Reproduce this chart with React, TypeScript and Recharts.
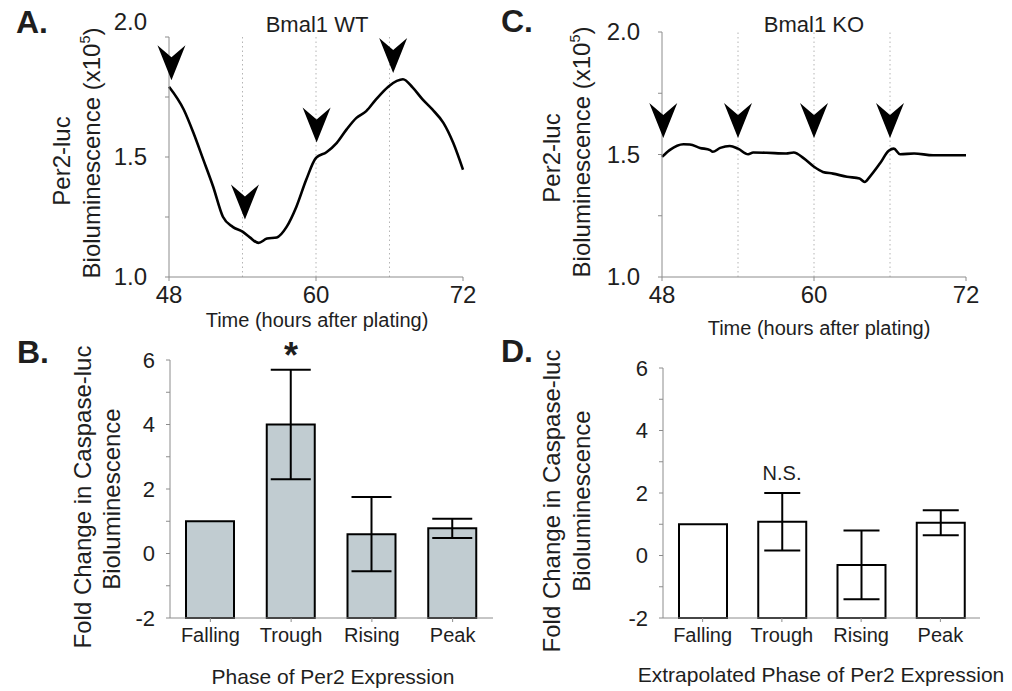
import React from 'react';
import {
  ComposedChart,
  Line,
  Scatter,
  XAxis,
  YAxis,
  ReferenceLine,
  BarChart,
  Bar,
  ErrorBar,
} from 'recharts';

const FONT = '"Liberation Sans", Arial, Helvetica, sans-serif';
const INK = '#1e1e1e';
const AXIS = '#8c8c8c';

// Per2-luc traces (x10^5), panels A and C
const HOURS_WT = [48, 49.2, 50, 50.8, 51.6, 52.4, 53.2, 54, 54.6, 55.3, 56, 56.8, 57.6, 58.4, 59.2, 60, 60.85, 61.7, 62.5, 63.3, 64.1, 64.9, 65.9, 66.6, 67.1, 67.9, 68.7, 69.5, 70.4, 71.2, 72];
const LUC_WT = [1.793, 1.698, 1.6, 1.489, 1.377, 1.251, 1.209, 1.189, 1.165, 1.142, 1.16, 1.165, 1.209, 1.293, 1.405, 1.496, 1.52, 1.559, 1.615, 1.663, 1.691, 1.74, 1.793, 1.817, 1.824, 1.789, 1.74, 1.698, 1.642, 1.559, 1.447];

const HOURS_KO = [48, 48.6, 49.7, 50.2, 51, 51.8, 52, 52.6, 53.35, 54, 54.8, 55.2, 56.25, 57.8, 58.4, 59.2, 60, 60.7, 61.5, 62.6, 63.6, 64, 64.4, 65.2, 65.9, 66.3, 66.8, 67.9, 69.4, 72];
const LUC_KO = [1.49, 1.518, 1.542, 1.541, 1.527, 1.518, 1.511, 1.527, 1.535, 1.524, 1.501, 1.508, 1.507, 1.504, 1.508, 1.484, 1.45, 1.429, 1.422, 1.409, 1.402, 1.388, 1.409, 1.463, 1.515, 1.524, 1.501, 1.504, 1.497, 1.497];

const ARROW_HOURS_WT = [48.2, 54.2, 60.05, 66.3];
const ARROW_TIPS_WT = [1.82, 1.24, 1.56, 1.85];
const ARROW_HOURS_KO = [48.1, 54, 60, 66];
const ARROW_TIPS_KO = [1.567, 1.567, 1.567, 1.567];

const GRID_HOURS = [54, 60, 66];
const TIME_TICKS = [48, 60, 72];
const LUC_TICKS = [1, 1.25, 1.5, 1.75, 2];

// Caspase-luc fold change, panels B and D
const PHASES = ['Falling', 'Trough', 'Rising', 'Peak'];
const FOLD_WT = [1, 4, 0.6, 0.78];
const ERR_WT = [0, 1.7, 1.15, 0.3];
const FOLD_KO = [1, 1.08, -0.3, 1.05];
const ERR_KO = [0, 0.92, 1.1, 0.4];
const FOLD_TICKS = [-2, -1, 0, 1, 2, 3, 4, 5, 6];
const FOLD_FLOOR = -2;

const toPoints = (hours: number[], vals: number[]) => hours.map((h, i) => ({ h, v: vals[i] }));
const toBars = (means: number[], errs: number[]) =>
  PHASES.map((phase, i) => ({ phase, range: [FOLD_FLOOR, means[i]], err: errs[i] }));

const Arrowhead = (props: any) => {
  const { cx, cy } = props;
  if (cx == null || cy == null) return <g />;
  const d = `M${cx},${cy} L${cx - 14},${cy - 35} L${cx},${cy - 23} L${cx + 14},${cy - 35} Z`;
  return <path d={d} fill="#000" />;
};

const lucTick = (topShift: number) => (props: any) => {
  const { x, y, payload } = props;
  const v = payload.value;
  if (Math.abs(v * 2 - Math.round(v * 2)) > 1e-6) return <g />;
  return (
    <text x={x} y={v === 2 ? y + topShift : y} dy="0.35em" textAnchor="end" fontSize={24} fill={INK} fontFamily={FONT}>
      {v.toFixed(1)}
    </text>
  );
};

const foldTick = (props: any) => {
  const { x, y, payload } = props;
  if (payload.value % 2 !== 0) return <g />;
  return (
    <text x={x} y={y} dy="0.35em" textAnchor="end" fontSize={22} fill={INK} fontFamily={FONT}>
      {payload.value}
    </text>
  );
};

const Txt = ({ x, y, size, bold, rotate, children }: any) => (
  <div
    style={{
      position: 'absolute',
      left: x,
      top: y,
      transform: `translate(-50%, -50%)${rotate ? ' rotate(-90deg)' : ''}`,
      fontSize: size,
      fontWeight: bold ? 700 : 400,
      whiteSpace: 'nowrap',
      lineHeight: 1,
      fontFamily: FONT,
      color: INK,
    }}
  >
    {children}
  </div>
);

const Sup5 = () => <span style={{ fontSize: '0.6em', position: 'relative', top: '-0.7em' }}>5</span>;

const TraceChart = ({ width, margin, curve, arrows, topShift }: any) => (
  <ComposedChart width={width} height={340} margin={margin}>
    <XAxis
      dataKey="h"
      type="number"
      domain={[48, 72]}
      ticks={TIME_TICKS}
      height={30}
      stroke={AXIS}
      tickSize={4}
      tickMargin={5}
      tick={{ fontSize: 24, fill: INK, fontFamily: FONT }}
    />
    <YAxis
      type="number"
      domain={[1, 2]}
      ticks={LUC_TICKS}
      width={60}
      stroke={AXIS}
      tickSize={4}
      tickMargin={18}
      tick={lucTick(topShift)}
    />
    {GRID_HOURS.map((h) => (
      <ReferenceLine key={h} x={h} stroke="#b4b4b4" strokeDasharray="1.5 3" />
    ))}
    <Line data={curve} dataKey="v" type="monotone" stroke="#000" strokeWidth={2.6} dot={false} isAnimationActive={false} />
    <Scatter data={arrows} dataKey="v" shape={Arrowhead} isAnimationActive={false} />
  </ComposedChart>
);

const FoldChart = ({ width, margin, data, fill, cap }: any) => (
  <BarChart width={width} height={351} margin={margin} data={data}>
    <XAxis
      dataKey="phase"
      height={30}
      stroke={AXIS}
      tickSize={4}
      tickMargin={6}
      tick={{ fontSize: 20, fill: INK, fontFamily: FONT }}
    />
    <YAxis
      type="number"
      domain={[-2, 6]}
      ticks={FOLD_TICKS}
      width={60}
      stroke={AXIS}
      tickSize={4}
      tickMargin={11}
      tick={foldTick}
    />
    <Bar dataKey="range" barSize={48} fill={fill} stroke="#000" strokeWidth={2} isAnimationActive={false}>
      <ErrorBar dataKey="err" width={cap} stroke="#000" strokeWidth={2} direction="y" />
    </Bar>
  </BarChart>
);

export default function App() {
  return (
    <div style={{ position: 'absolute', left: 0, top: 0, width: 1012, height: 691, background: '#fff', fontFamily: FONT }}>
      <div style={{ position: 'absolute', left: 0, top: 0 }}>
        <TraceChart
          width={500}
          margin={{ top: 37, right: 37, bottom: 33, left: 109 }}
          curve={toPoints(HOURS_WT, LUC_WT)}
          arrows={toPoints(ARROW_HOURS_WT, ARROW_TIPS_WT)}
          topShift={-15}
        />
      </div>
      <div style={{ position: 'absolute', left: 500, top: 0 }}>
        <TraceChart
          width={512}
          margin={{ top: 32, right: 46, bottom: 33, left: 102 }}
          curve={toPoints(HOURS_KO, LUC_KO)}
          arrows={toPoints(ARROW_HOURS_KO, ARROW_TIPS_KO)}
          topShift={0}
        />
      </div>
      <div style={{ position: 'absolute', left: 0, top: 340 }}>
        <FoldChart width={500} margin={{ top: 20, right: 7, bottom: 43, left: 110 }} data={toBars(FOLD_WT, ERR_WT)} fill="#c1ccd1" cap={20} />
      </div>
      <div style={{ position: 'absolute', left: 500, top: 340 }}>
        <FoldChart width={512} margin={{ top: 28, right: 32, bottom: 43, left: 103 }} data={toBars(FOLD_KO, ERR_KO)} fill="#fff" cap={18} />
      </div>

      <Txt x={32} y={22} size={32} bold>A.</Txt>
      <Txt x={517} y={21} size={32} bold>C.</Txt>
      <Txt x={33} y={352} size={32} bold>B.</Txt>
      <Txt x={517} y={351} size={32} bold>D.</Txt>

      <Txt x={317} y={25} size={22}>Bmal1 WT</Txt>
      <Txt x={814} y={25} size={22}>Bmal1 KO</Txt>

      <Txt x={62} y={161} size={24} rotate>Per2-luc</Txt>
      <Txt x={92} y={153} size={24} rotate>Bioluminescence (x10<Sup5 />)</Txt>
      <Txt x={552} y={158} size={24} rotate>Per2-luc</Txt>
      <Txt x={582} y={152} size={24} rotate>Bioluminescence (x10<Sup5 />)</Txt>
      <Txt x={317} y={320} size={20}>Time (hours after plating)</Txt>
      <Txt x={819} y={328} size={20}>Time (hours after plating)</Txt>

      <Txt x={83} y={497} size={24} rotate>Fold Change in Caspase-luc</Txt>
      <Txt x={112} y={499} size={24} rotate>Bioluminescence</Txt>
      <Txt x={552} y={501} size={24} rotate>Fold Change in Caspase-luc</Txt>
      <Txt x={582} y={501} size={24} rotate>Bioluminescence</Txt>
      <Txt x={333} y={676} size={21}>Phase of Per2 Expression</Txt>
      <Txt x={821} y={674} size={21}>Extrapolated Phase of Per2 Expression</Txt>

      <Txt x={291} y={356} size={36} bold>*</Txt>
      <Txt x={782} y={473} size={20}>N.S.</Txt>
    </div>
  );
}
